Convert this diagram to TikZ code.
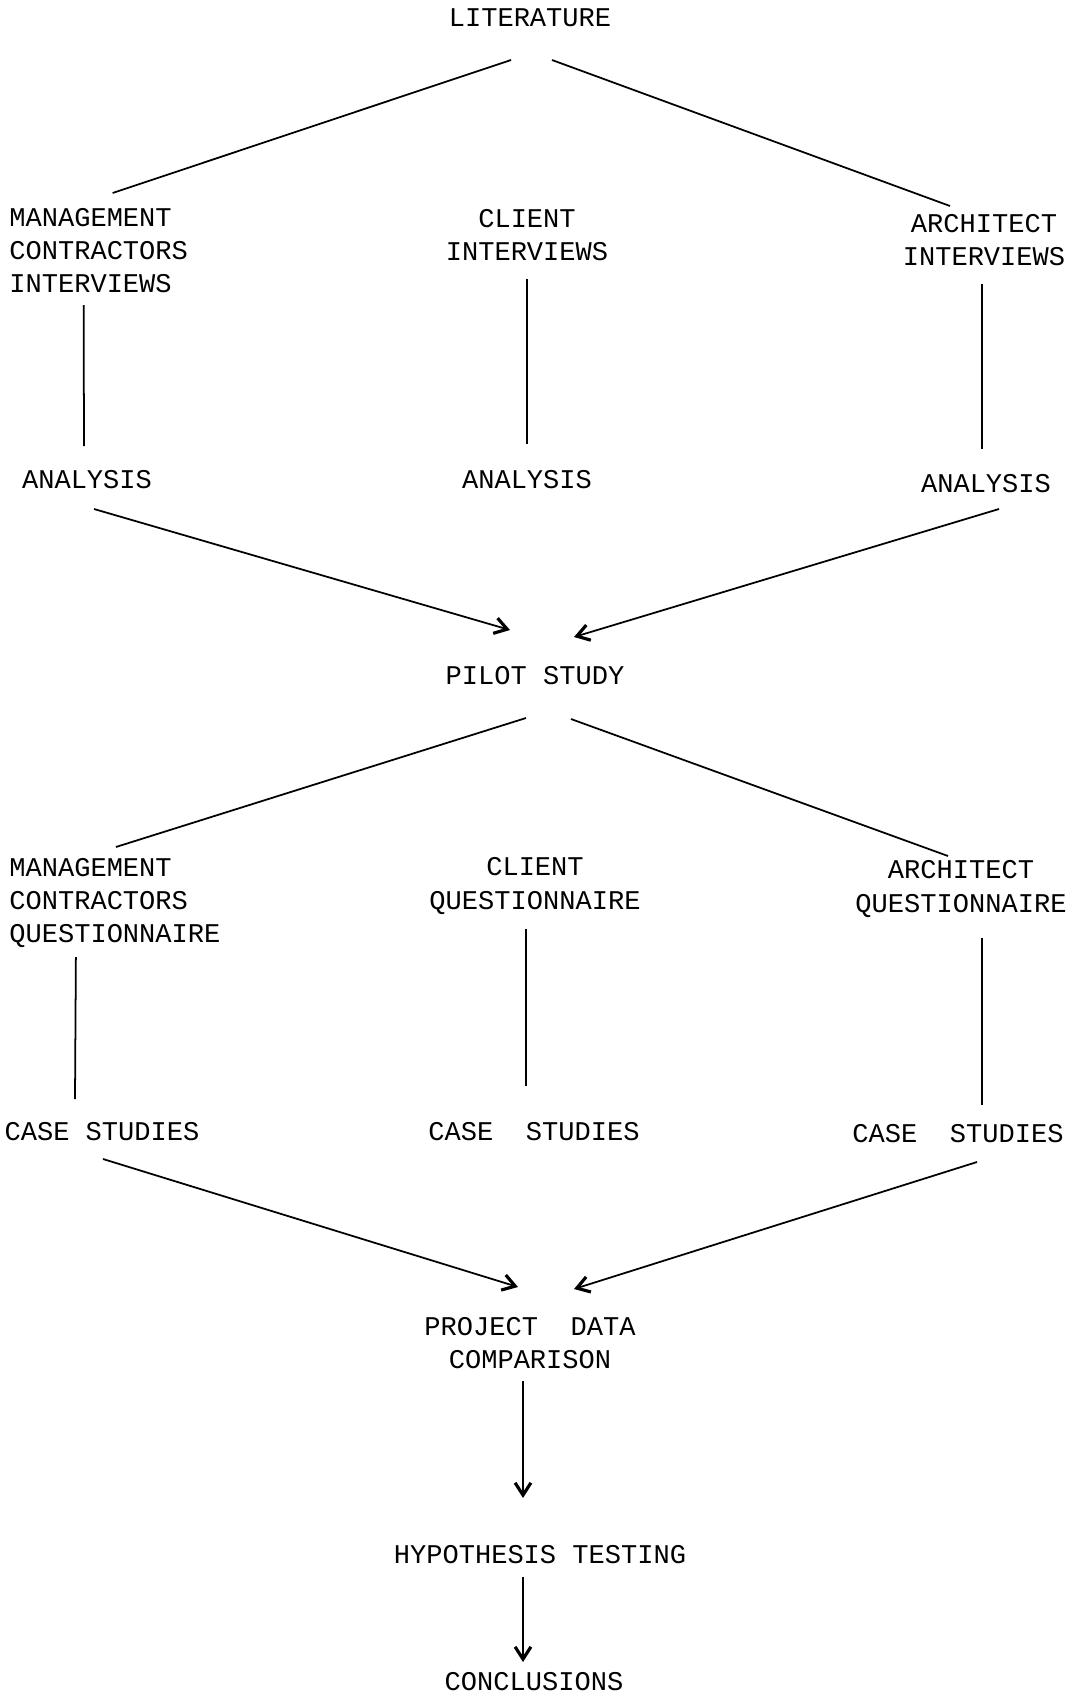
\documentclass[tikz,border=0pt]{standalone}
\usepackage{fontspec}
\newfontfamily\typefont{Liberation Mono}
\usetikzlibrary{arrows.meta,calc}

\begin{document}
\begin{tikzpicture}[
  x=0.02cm, y=-0.02cm,
  item/.style={inner sep=0pt, align=center, font=\typefont\fontsize{15.4}{18.8}\selectfont},
  itemleft/.style={item, align=left, anchor=west},
  link/.style={line width=1pt},
  arrow/.style={line width=1pt, -{Straight Barb[length=7pt,width=9pt,line width=1.8pt]}}
]
\useasboundingbox (0,0) rectangle (1071,1698);

% Nodes
\node[item] (lit) at (530,18) {LITERATURE};
\node[itemleft] (mci) at (9,251) {MANAGEMENT\\CONTRACTORS\\INTERVIEWS};
\node[item] (cli) at (527,235) {CLIENT\\INTERVIEWS};
\node[item] (aci) at (984,240) {ARCHITECT\\INTERVIEWS};
\node[item] (ana1) at (87,480) {ANALYSIS};
\node[item] (ana2) at (527,480) {ANALYSIS};
\node[item] (ana3) at (986,484) {ANALYSIS};
\node[item] (pilot) at (535,676) {PILOT STUDY};
\node[itemleft] (mcq) at (9,903) {MANAGEMENT\\CONTRACTORS\\QUESTIONNAIRE};
\node[item] (clq) at (535,886) {CLIENT\\QUESTIONNAIRE};
\node[item] (acq) at (961,889) {ARCHITECT\\QUESTIONNAIRE};
\node[item] (cs1) at (102,1132) {CASE STUDIES};
\node[item] (cs2) at (534,1132) {CASE~~STUDIES};
\node[item] (cs3) at (958,1134) {CASE~~STUDIES};
\node[item] (pdc) at (530,1343) {PROJECT~~DATA\\COMPARISON};
\node[item] (hyp) at (540,1555) {HYPOTHESIS TESTING};
\node[item] (con) at (534,1682) {CONCLUSIONS};

% Interviews
\draw[link] ($(lit.center)+(-19,42)$) -- ($(mci.center)+(14,-58)$);
\draw[link] ($(lit.center)+(22,42)$) -- ($(aci.center)+(-34,-34)$);
\draw[link] ($(mci.center)+(-15,54)$) -- ($(ana1.center)+(-3,-34)$);
\draw[link] ($(cli.center)+(0,44)$) -- ($(ana2.center)+(0,-36)$);
\draw[link] ($(aci.center)+(-2,44)$) -- ($(ana3.center)+(-4,-35)$);
\draw[arrow] ($(ana1.center)+(7,29)$) -- ($(pilot.center)+(-25,-46)$);
\draw[arrow] ($(ana3.center)+(13,25)$) -- ($(pilot.center)+(39,-39)$);

% Questionnaires
\draw[link] ($(pilot.center)+(-9,42)$) -- ($(mcq.center)+(1,-56)$);
\draw[link] ($(pilot.center)+(36,43)$) -- ($(acq.center)+(-13,-33)$);
\draw[link] ($(mcq.center)+(-39,54)$) -- ($(cs1.center)+(-27,-33)$);
\draw[link] ($(clq.center)+(-9,43)$) -- ($(cs2.center)+(-8,-46)$);
\draw[link] ($(acq.center)+(21,49)$) -- ($(cs3.center)+(24,-29)$);
\draw[arrow] ($(cs1.center)+(1,27)$) -- ($(pdc.center)+(-12,-56)$);
\draw[arrow] ($(cs3.center)+(19,28)$) -- ($(pdc.center)+(44,-54)$);

% Final steps
\draw[arrow] ($(pdc.center)+(-7,38)$) -- ($(hyp.center)+(-17,-57)$);
\draw[arrow] ($(hyp.center)+(-17,22)$) -- ($(con.center)+(-11,-20)$);

\end{tikzpicture}
\end{document}
